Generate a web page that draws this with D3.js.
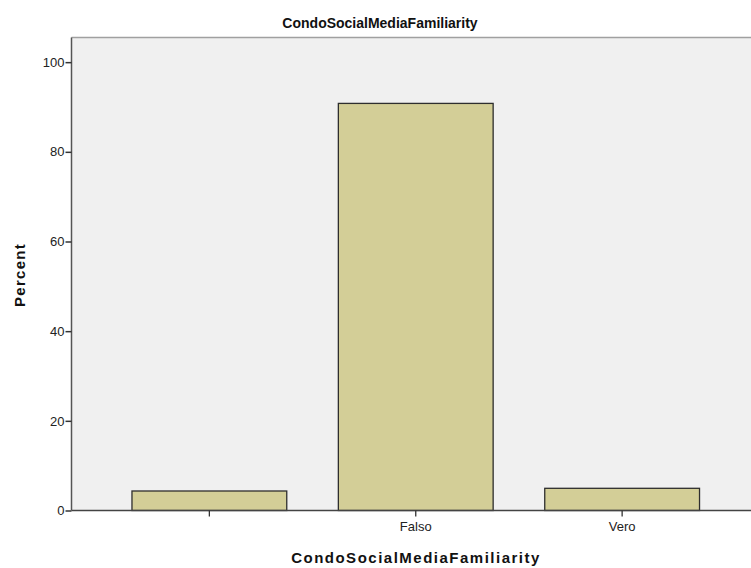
<!DOCTYPE html>
<html><head><meta charset="utf-8">
<script src="https://cdn.jsdelivr.net/npm/d3@7"></script>
<style>body{margin:0;background:#fff;} svg{display:block;}</style>
</head><body>
<svg id="c" width="751" height="568"></svg>
<script>
const categories = ["", "Falso", "Vero"];
const percents = [4.35, 90.8, 4.95];
const yTicks = [0, 20, 40, 60, 80, 100];
const title = "CondoSocialMediaFamiliarity";
const xTitle = "CondoSocialMediaFamiliarity";
const yTitle = "Percent";

(function () {
const svg = d3.select("#c");
const pLeft = 71.5, pRight = 760, pTop = 37.5, pBottom = 510.5;
const font = "Arial, 'Liberation Sans', sans-serif";

const x = d3.scaleBand().domain(categories).range([pLeft, pRight]).paddingInner(0.25).paddingOuter(0.293);
const y = d3.scaleLinear().domain([0, 105.5]).range([pBottom, pTop]);

// plot background
svg.append("rect").attr("x", pLeft).attr("y", pTop).attr("width", 751 - pLeft).attr("height", pBottom - pTop)
  .attr("fill", "#f0f0f0");
svg.append("line").attr("x1", pLeft).attr("x2", 751).attr("y1", pTop).attr("y2", pTop)
  .attr("stroke", "#a0a0a0").attr("stroke-width", 1.5);

// bars
svg.append("g").selectAll("rect").data(categories).join("rect")
  .attr("x", d => x(d)).attr("width", x.bandwidth())
  .attr("y", (d, i) => y(percents[i])).attr("height", (d, i) => y(0) - y(percents[i]))
  .attr("fill", "#d3ce97").attr("stroke", "#2e2e2e").attr("stroke-width", 1.3);

// y axis
const yAxis = svg.append("g").attr("transform", `translate(${pLeft},0)`)
  .call(d3.axisLeft(y).tickValues(yTicks).tickSize(6).tickPadding(1).tickFormat(d3.format("d")));
yAxis.select(".domain").attr("stroke", "#555").attr("stroke-width", 1.5).attr("d", `M0,${pTop}V${pBottom}`);
yAxis.selectAll(".tick line").attr("stroke", "#333").attr("stroke-width", 1.5);
yAxis.selectAll("text").attr("font-family", font).attr("font-size", 13).attr("fill", "#222");

// x axis
const xAxis = svg.append("g").attr("transform", `translate(0,${pBottom})`)
  .call(d3.axisBottom(x).tickSize(6).tickPadding(5));
xAxis.select(".domain").attr("stroke", "#444").attr("stroke-width", 1.5).attr("d", `M${pLeft},0H751`);
xAxis.selectAll(".tick line").attr("stroke", "#333").attr("stroke-width", 1.3);
xAxis.selectAll("text").attr("font-family", font).attr("font-size", 13).attr("fill", "#222");

// titles
svg.append("text").attr("x", 380).attr("y", 28).attr("text-anchor", "middle")
  .attr("font-family", font).attr("font-weight", "bold").attr("font-size", 14).attr("fill", "#111").text(title);
svg.append("text").attr("x", 416).attr("y", 563).attr("text-anchor", "middle")
  .attr("font-family", font).attr("font-weight", "bold").attr("font-size", 15).attr("letter-spacing", 1.5)
  .attr("fill", "#111").text(xTitle);
svg.append("text").attr("transform", `translate(25,275) rotate(-90)`).attr("text-anchor", "middle")
  .attr("font-family", font).attr("font-weight", "bold").attr("font-size", 15).attr("letter-spacing", 1.3)
  .attr("fill", "#111").text(yTitle);
})();
</script>
</body></html>
